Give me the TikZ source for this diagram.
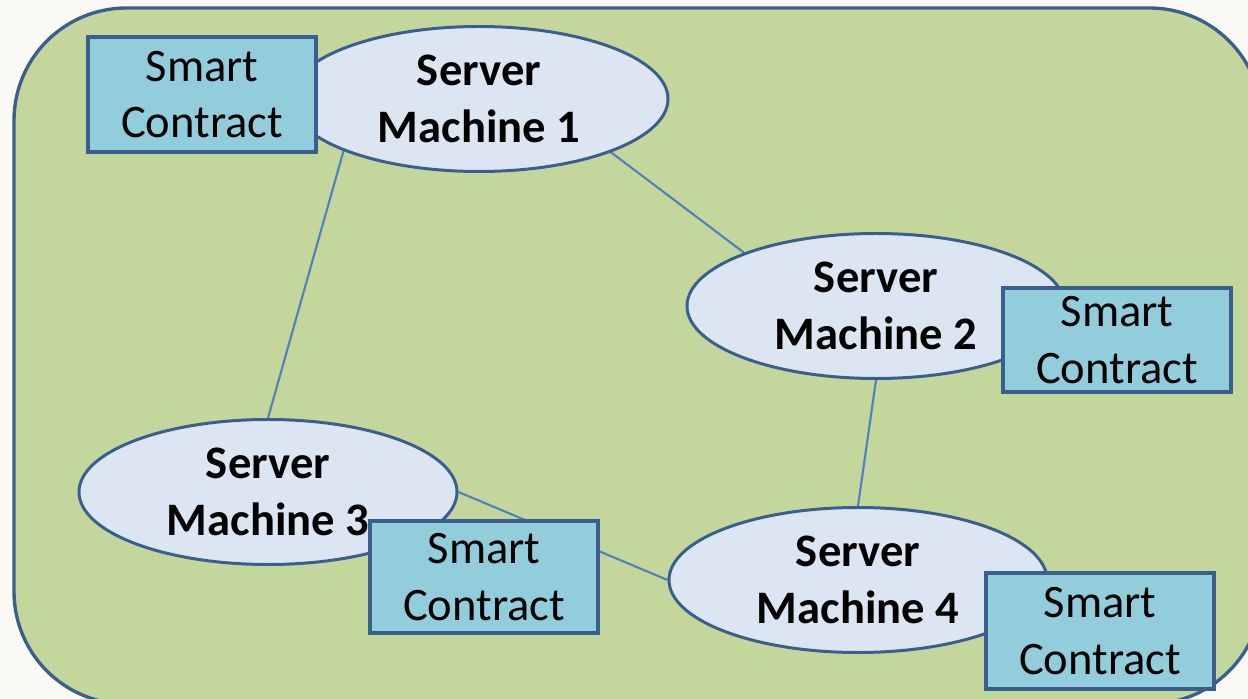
\documentclass[tikz,border=0pt]{standalone}
\usepackage{fontspec}
\setmainfont{Carlito}
\usepackage{tikz}
\usetikzlibrary{backgrounds,shapes.geometric}
\definecolor{pagebg}{HTML}{FAF9F6}
\definecolor{netgreen}{HTML}{C3D69B}
\definecolor{rimblue}{HTML}{3A5F8F}
\definecolor{servfill}{HTML}{DCE6F2}
\definecolor{contfill}{HTML}{92CDDC}
\definecolor{linkblue}{HTML}{4F81BD}
\pgfdeclarelayer{back}
\pgfsetlayers{back,background,main}
\tikzset{
  server/.style={ellipse,draw=rimblue,line width=1.7pt,fill=servfill,
    minimum width=7.56cm,minimum height=2.9cm,inner xsep=0pt,inner ysep=-8pt,
    align=center,font=\fontsize{26.5}{32}\selectfont\bfseries},
  contract/.style={rectangle,draw=rimblue,line width=1.8pt,fill=contfill,
    minimum width=4.56cm,minimum height=2.3cm,inner sep=0pt,
    align=center,font=\fontsize{26.5}{32}\selectfont},
  link/.style={draw=linkblue,line width=1.2pt}
}

\begin{document}
\begin{tikzpicture}
\useasboundingbox (0,0) rectangle (24.96,-13.98);
\begin{pgfonlayer}{back}
\fill[pagebg] (0,0) rectangle (24.96,-13.98);
\draw[draw=rimblue,fill=netgreen,line width=1.9pt,rounded corners=2.25cm]
  (0.28,-0.16) rectangle (25.24,-14.08);
\end{pgfonlayer}

% servers
\node[server] (sm1) at (9.58,-1.98) {Server\\Machine 1};
\node[server] (sm2) at (17.52,-6.12) {Server\\Machine 2};
\node[server] (sm3) at (5.36,-9.84) {Server\\Machine 3};
\node[server] (sm4) at (17.16,-11.6) {Server\\Machine 4};

% smart contracts
\node[contract] (sc1) at (4.04,-1.89) {Smart\\Contract};
\node[contract,minimum height=2.08cm] (sc2) at (22.34,-6.8) {Smart\\Contract};
\node[contract,minimum height=2.24cm] (sc3) at (9.68,-11.54) {Smart\\Contract};
\node[contract,minimum height=2.32cm] (sc4) at (22.0,-12.62) {Smart\\Contract};

\begin{scope}[on background layer]
\draw[link] (sm1.201.7) -- (sm3.north);
\draw[link] (sm1.338) -- (sm2.158);
\draw[link] (sm2.south) -- (sm4.north);
\draw[link] (sm3.east) -- (sm4.west);
\end{scope}
\end{tikzpicture}
\end{document}
